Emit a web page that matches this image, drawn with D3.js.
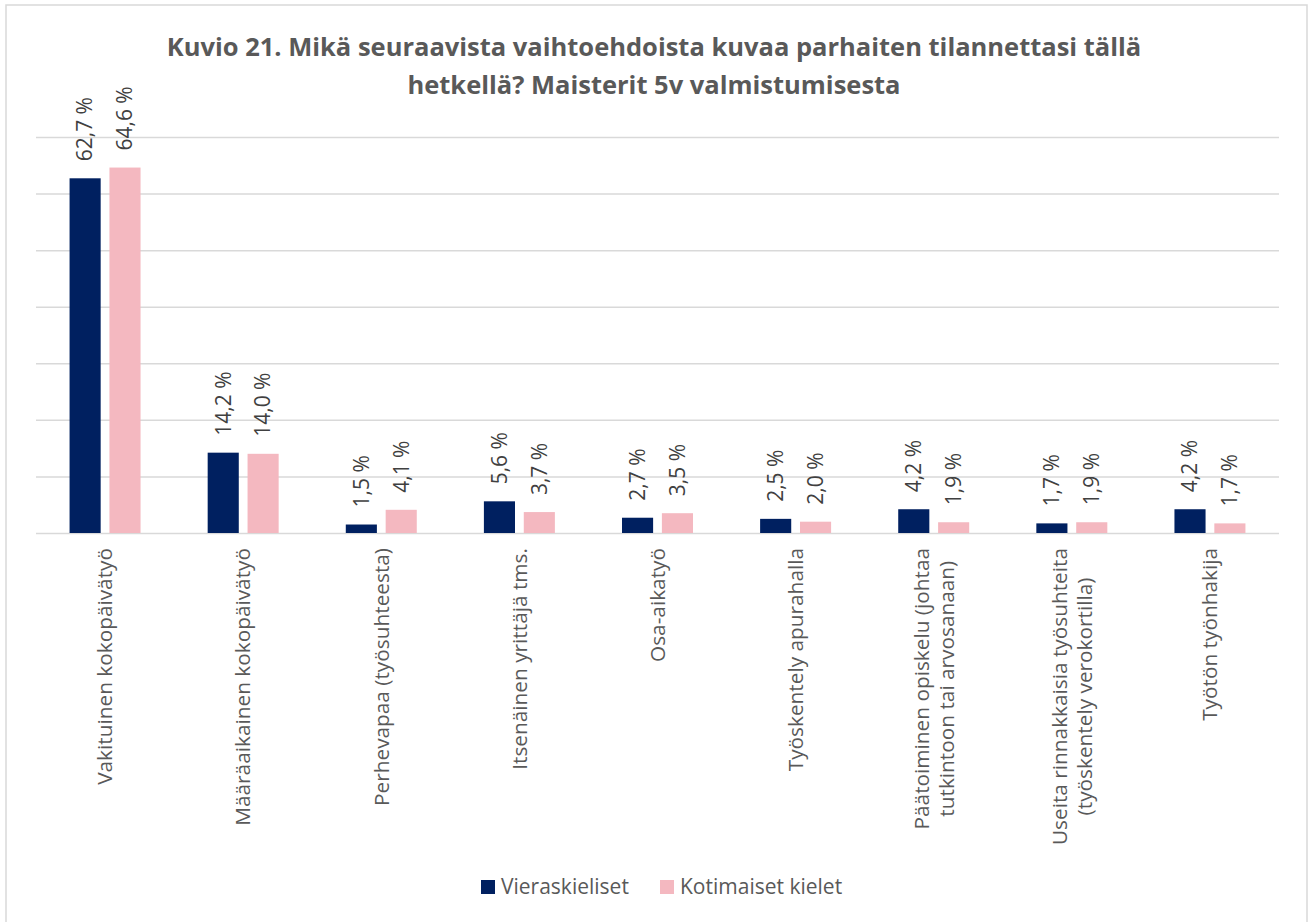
<!DOCTYPE html>
<html>
<head>
<meta charset="utf-8">
<script src="https://cdn.jsdelivr.net/npm/d3@7"></script>
<style>
  body { margin: 0; background: #fff; }
  svg { font-family: "Open Sans", sans-serif; }
</style>
</head>
<body>
<svg id="chart"></svg>
<script>
let w = 1308;
let h = 922;

let categories = [
  ['Vakituinen kokopäivätyö'],
  ['Määräaikainen kokopäivätyö'],
  ['Perhevapaa (työsuhteesta)'],
  ['Itsenäinen yrittäjä tms.'],
  ['Osa-aikatyö'],
  ['Työskentely apurahalla'],
  ['Päätoiminen opiskelu (johtaa', 'tutkintoon tai arvosanaan)'],
  ['Useita rinnakkaisia työsuhteita', '(työskentely verokortilla)'],
  ['Työtön työnhakija']
];
let seriesNames = ['Vieraskieliset', 'Kotimaiset kielet'];
let vieraskieliset = [62.7, 14.2, 1.5, 5.6, 2.7, 2.5, 4.2, 1.7, 4.2];
let kotimaiset = [64.6, 14.0, 4.1, 3.7, 3.5, 2.0, 1.9, 1.9, 1.7];
let yTicks = [0, 10, 20, 30, 40, 50, 60, 70];
let colors = ['#002060', '#f4b8c0'];

let titleLines = [
  'Kuvio 21. Mikä seuraavista vaihtoehdoista kuvaa parhaiten tilannettasi tällä',
  'hetkellä? Maisterit 5v valmistumisesta'
];

let svg = d3.select('#chart').attr('width', w).attr('height', h);

// chart frame
svg.append('rect')
  .attr('x', 6).attr('y', 5)
  .attr('width', 1301).attr('height', 925)
  .attr('fill', '#fff')
  .attr('stroke', '#d9d9d9')
  .attr('stroke-width', 1.5);

// title
svg.append('text')
  .attr('fill', '#595959')
  .attr('font-weight', 'bold')
  .attr('font-size', 25.5)
  .attr('text-anchor', 'middle')
  .selectAll('tspan')
  .data(titleLines)
  .enter()
  .append('tspan')
  .attr('x', 654)
  .attr('y', (d, i) => 56 + i * 38)
  .text(d => d);

let keys = d3.range(categories.length);
let xScale = d3.scaleBand()
  .domain(keys)
  .range([36, 1279])
  .paddingInner(0.486)
  .paddingOuter(0.243);

let xInner = d3.scaleBand()
  .domain([0, 1])
  .range([0, xScale.bandwidth()])
  .paddingInner(0.22);

let yScale = d3.scaleLinear()
  .domain([0, 70])
  .range([533, 137]);

// gridlines
let grid = d3.axisLeft(yScale)
  .tickValues(yTicks)
  .tickSize(-(1279 - 36))
  .tickFormat('');
let gridG = svg.append('g')
  .attr('transform', 'translate(36,0)')
  .call(grid);
gridG.select('.domain').remove();
gridG.selectAll('line')
  .attr('stroke', '#d9d9d9')
  .attr('stroke-width', 1.5);

// bars
let rows = keys.map(i => [vieraskieliset[i], kotimaiset[i]]);

let groups = svg.selectAll('.grp')
  .data(rows)
  .enter()
  .append('g')
  .attr('class', 'grp')
  .attr('transform', (d, i) => 'translate(' + xScale(i) + ',0)');

groups.selectAll('rect')
  .data(d => d)
  .enter()
  .append('rect')
  .attr('x', (d, j) => xInner(j))
  .attr('width', xInner.bandwidth())
  .attr('y', d => yScale(d))
  .attr('height', d => yScale(0) - yScale(d))
  .attr('fill', (d, j) => colors[j]);

// value labels
groups.selectAll('.val')
  .data(d => d)
  .enter()
  .append('text')
  .attr('class', 'val')
  .attr('transform', (d, j) =>
    'translate(' + (xInner(j) + xInner.bandwidth() / 2) + ',' + (yScale(d) - 17) + ') rotate(-90)')
  .attr('dy', '0.35em')
  .attr('font-size', 21)
  .attr('fill', '#404040')
  .text(d => d.toFixed(1).replace('.', ',') + ' %');

// category labels
let catG = svg.selectAll('.cat')
  .data(categories)
  .enter()
  .append('g')
  .attr('class', 'cat')
  .attr('transform', (d, i) =>
    'translate(' + (xScale(i) + xScale.bandwidth() / 2) + ',548) rotate(-90)');

catG.each(function (lines) {
  let g = d3.select(this);
  let texts = g.selectAll('text')
    .data(lines)
    .enter()
    .append('text')
    .attr('font-size', 20.8)
    .attr('fill', '#595959')
    .attr('text-anchor', 'middle')
    .attr('y', (d, k) => (k - (lines.length - 1) / 2) * 25)
    .attr('dy', '0.35em')
    .text(d => d);
  let maxLen = d3.max(texts.nodes(), n => n.getComputedTextLength());
  texts.attr('x', -maxLen / 2);
});

// legend
let legend = svg.append('g').attr('transform', 'translate(481,880)');
let items = legend.selectAll('g')
  .data(seriesNames)
  .enter()
  .append('g')
  .attr('transform', (d, i) => 'translate(' + (i * 179) + ',0)');
items.append('rect')
  .attr('width', 14).attr('height', 14)
  .attr('fill', (d, i) => colors[i]);
items.append('text')
  .attr('x', 20)
  .attr('y', 7)
  .attr('dy', '0.35em')
  .attr('font-size', 21)
  .attr('fill', '#595959')
  .text(d => d);
</script>
</body>
</html>
